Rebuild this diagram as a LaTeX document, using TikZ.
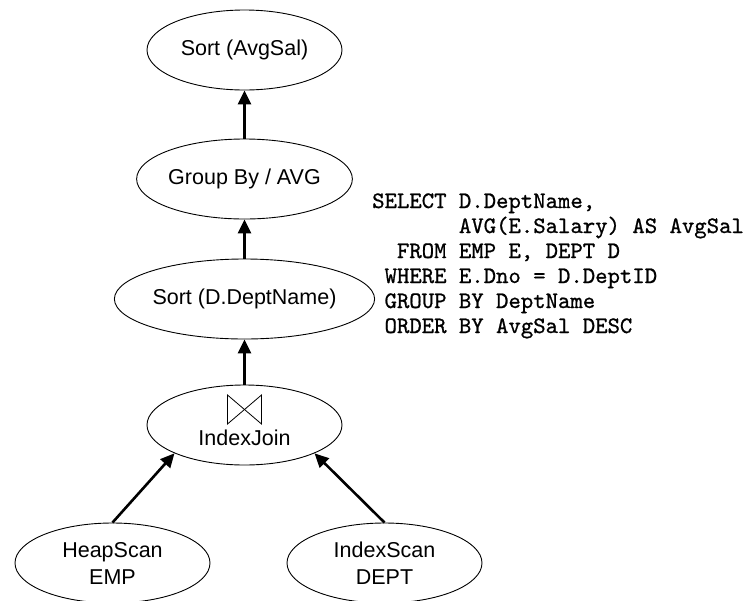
\documentclass[tikz,border=0pt]{standalone}
\usepackage{fontspec}
\setmainfont{Liberation Sans}
\newfontfamily\sqlfont[FakeBold=0.8]{lmmono10-regular.otf}
\usetikzlibrary{shapes.geometric,arrows.meta}
\tikzset{
  opnode/.style={draw=black, line width=0.9pt, ellipse, minimum width=195pt, minimum height=80pt, inner sep=0pt, align=center, font=\fontsize{21.5}{27}\selectfont},
  optext/.style={inner sep=0pt, font=\fontsize{21.5}{27}\selectfont},
  arr/.style={draw=black, line width=2.6pt, -{Triangle[length=14pt,width=13pt]}},
  sqlline/.style={anchor=base west, inner sep=0pt, font=\sqlfont\fontsize{23.6}{25}\selectfont}
}
\begin{document}
\begin{tikzpicture}[x=1pt,y=-1pt]
\useasboundingbox[fill=white] (0,0) rectangle (752,600);
\node[opnode] (sortavg) at (244.5,50) {Sort (AvgSal)};
\node[opnode] (group) at (244.5,179) {Group By / AVG};
\node[opnode] (sortdept) at (244.5,299) {Sort (D.DeptName)};
\node[opnode] (join) at (244.5,425) {};
\node[optext] (joinlbl) at ([yshift=-13pt]join.center) {IndexJoin};
\draw[line width=0.8pt] ([shift={(-17,-30)}]join.center) coordinate (bt1)
  -- ([shift={(-17,-1)}]join.center) -- ([shift={(17,-30)}]join.center)
  -- ([shift={(17,-1)}]join.center) -- cycle;
\node[opnode] (heap) at (112.5,563) {HeapScan\\EMP};
\node[opnode] (dept) at (384.5,563) {IndexScan\\DEPT};
\draw[arr] (group.north) -- (sortavg.south);
\draw[arr] (sortdept.north) -- (group.south);
\draw[arr] (join.north) -- (sortdept.south);
\draw[arr] (heap.north) -- (join.202);
\draw[arr] (dept.north) -- (join.338);
\node[sqlline] (sql1) at (372,208) {SELECT D.DeptName,};
\node[sqlline] (sql2) at (372,233) {\hphantom{XXXXXXX}AVG(E.Salary) AS AvgSal};
\node[sqlline] (sql3) at (372,258) {\hphantom{XX}FROM EMP E, DEPT D};
\node[sqlline] (sql4) at (372,283) {\hphantom{X}WHERE E.Dno = D.DeptID};
\node[sqlline] (sql5) at (372,308) {\hphantom{X}GROUP BY DeptName};
\node[sqlline] (sql6) at (372,333) {\hphantom{X}ORDER BY AvgSal DESC};
\end{tikzpicture}
\end{document}
